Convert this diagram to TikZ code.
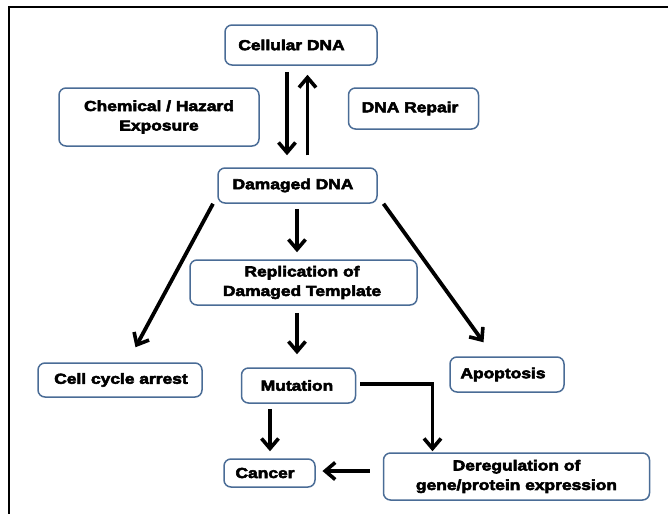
\documentclass[tikz,border=0pt]{standalone}
\usepackage{fontspec}
\newfontfamily\boxfont[FakeStretch=1.2]{Liberation Sans Bold}
\usetikzlibrary{arrows.meta}
\definecolor{boxline}{HTML}{4A6C96}
\newcommand{\heavyon}{\special{pdf:code 2 Tr 0.55 w}}
\newcommand{\heavyoff}{\special{pdf:code 0 Tr}}
\tikzset{
  box/.style={draw=boxline, line width=1.5pt, rounded corners=7pt, fill=white, inner sep=0pt},
  txt/.style={font=\boxfont\fontsize{14.5}{19.5}\selectfont, align=center, inner sep=0pt,
    execute at begin node=\heavyon, execute at end node=\heavyoff},
  arr/.style={line width=3.8pt, -{Straight Barb[length=10pt,width=17pt,line width=3.6pt]}},
  frameline/.style={line width=2.2pt}
}
\begin{document}
\begin{tikzpicture}[x=1pt,y=-1pt]
\useasboundingbox (0,0) rectangle (668,514);
\coordinate (ftl) at (9,7);
\coordinate (ftr) at (668,7);
\coordinate (fbl) at (9,514);
\draw[frameline] (ftr) -- (ftl) -- (fbl);

% boxes
\node[box, minimum width=152, minimum height=40] (cell) at (301,45) {};
\node[txt] (cellT) at (291.5,45) {Cellular DNA};

\node[box, minimum width=200, minimum height=58] (chem) at (159,117) {};
\node[txt] (chemT) at (159,117) {Chemical / Hazard\\Exposure};

\node[box, minimum width=130, minimum height=41] (rep) at (413.5,108.5) {};
\node[txt] (repT) at (410,108.5) {DNA Repair};

\node[box, minimum width=159, minimum height=35] (dam) at (297.5,185.5) {};
\node[txt] (damT) at (293,185.5) {Damaged DNA};

\node[box, minimum width=227, minimum height=45] (repl) at (303.5,282.5) {};
\node[txt] (replT) at (302,282.5) {Replication of\\Damaged Template};

\node[box, minimum width=164, minimum height=34] (arrest) at (120,380) {};
\node[txt] (arrestT) at (121,380) {Cell cycle arrest};

\node[box, minimum width=114, minimum height=35] (mut) at (298.5,385.5) {};
\node[txt] (mutT) at (297,385.5) {Mutation};

\node[box, minimum width=114, minimum height=35] (apo) at (507,374.5) {};
\node[txt] (apoT) at (503,374.5) {Apoptosis};

\node[box, minimum width=91, minimum height=28] (can) at (269.5,473) {};
\node[txt] (canT) at (265,473) {Cancer};

\node[box, minimum width=266, minimum height=47] (dereg) at (516.5,476.5) {};
\node[txt] (deregT) at (516.5,476.5) {Deregulation of\\gene/protein expression};

% connectors
\draw[arr] ([xshift=-14,yshift=-6]cell.south) -- ([xshift=-10.5,yshift=12]dam.north);
\draw[arr] ([xshift=10,yshift=12]dam.north) -- ([xshift=6.5,yshift=-9]cell.south);
\draw[arr] ([xshift=-0.5,yshift=-5]dam.south) -- ([xshift=-6.5,yshift=7]repl.north);
\draw[arr] ([xshift=-84.5]dam.south) -- ([xshift=15.5,yshift=15]arrest.north);
\draw[arr] ([xshift=86]dam.south) -- ([xshift=-23.5,yshift=14]apo.north);
\draw[arr] ([xshift=-6.5,yshift=-7]repl.south) -- ([xshift=-1.5,yshift=13]mut.north);
\draw[arr] ([xshift=-28.5,yshift=-5]mut.south) -- ([xshift=0.5,yshift=7]can.north);
\draw[arr] ([xshift=4,yshift=1.5]mut.east) -| ([xshift=-84,yshift=1]dereg.north);
\draw[arr] ([xshift=-12.8,yshift=5.5]dereg.west) -- ([xshift=6.7,yshift=2]can.east);
\end{tikzpicture}
\end{document}
